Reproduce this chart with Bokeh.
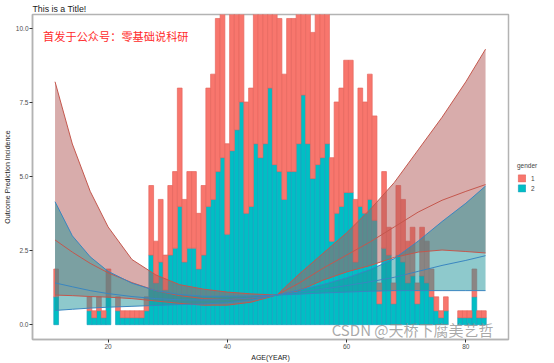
import numpy as np
from bokeh.plotting import figure
from bokeh.models import (Range1d, FixedTicker, PrintfTickFormatter, Legend,
                          LegendItem, Label)
from bokeh.embed import file_html
from bokeh.resources import INLINE

# ---------------- data ----------------
# histogram of AGE by gender (stacked), counts per bin
age_start = 10.89
bin_width = 0.797
count_unit = 0.2349   # y value of one count

gender2_counts = [4, 0, 0, 0, 0, 0, 0, 2, 1, 2,
                  1, 4, 0, 2, 1, 1, 1, 1, 1, 2,
                  10, 6, 9, 5, 10, 11, 17, 9, 11, 11,
                  8, 10, 17, 18, 22, 24, 13, 25, 28, 32,
                  16, 17, 26, 24, 26, 34, 23, 22, 18, 22,
                  22, 26, 33, 26, 21, 23, 24, 26, 12, 16,
                  17, 19, 19, 9, 17, 16, 18, 15, 3, 11,
                  10, 3, 10, 9, 6, 7, 3, 7, 6, 4,
                  2, 1, 2, 0, 0, 1, 1, 1, 4, 1, 1]
gender1_counts = [4, 0, 0, 0, 0, 0, 0, 2, 1, 2,
                  1, 4, 0, 2, 1, 1, 1, 1, 1, 2,
                  10, 6, 9, 5, 10, 11, 17, 9, 11, 11,
                  8, 10, 17, 18, 22, 24, 13, 25, 28, 32,
                  16, 17, 26, 24, 26, 34, 23, 22, 18, 22,
                  22, 26, 33, 26, 21, 23, 24, 26, 12, 16,
                  17, 19, 19, 9, 17, 16, 18, 15, 3, 11,
                  4, 3, 10, 9, 6, 7, 3, 7, 6, 4,
                  2, 1, 2, 0, 0, 1, 1, 1, 4, 1, 1]

# spline curves (prediction with confidence band) by gender
curve_age = [11.1, 14, 17, 20, 24, 28, 32, 36, 40, 44, 48.3,
             52, 56, 60, 64, 68, 72, 76, 80, 83.3]
g1_fit = [2.86, 2.45, 2.07, 1.75, 1.42, 1.15, 0.98, 0.88, 0.85, 0.89, 1.0,
          1.40, 1.90, 2.35, 2.80, 3.30, 3.80, 4.20, 4.50, 4.73]
g1_low = [1.00, 0.98, 0.95, 0.93, 0.88, 0.80, 0.72, 0.66, 0.66, 0.76, 1.0,
          1.15, 1.50, 1.78, 2.00, 2.27, 2.45, 2.52, 2.47, 2.42]
g1_high = [8.20, 6.10, 4.50, 3.30, 2.20, 1.68, 1.35, 1.20, 1.10, 1.04, 1.0,
           1.70, 2.40, 3.10, 3.90, 4.80, 5.90, 7.00, 8.20, 9.30]
g2_fit = [1.41, 1.28, 1.15, 1.05, 0.95, 0.88, 0.84, 0.83, 0.85, 0.90, 1.0,
          1.10, 1.20, 1.32, 1.45, 1.60, 1.80, 2.00, 2.17, 2.33]
g2_low = [0.48, 0.52, 0.56, 0.59, 0.62, 0.65, 0.68, 0.70, 0.74, 0.83, 1.0,
          1.03, 1.07, 1.10, 1.13, 1.15, 1.15, 1.15, 1.15, 1.15]
g2_high = [4.15, 3.00, 2.29, 1.80, 1.40, 1.15, 1.02, 0.96, 0.96, 0.97, 1.0,
           1.17, 1.35, 1.58, 1.86, 2.23, 2.82, 3.48, 4.10, 4.68]

x_ticks = [20, 40, 60, 80]
y_ticks = [0, 2.5, 5, 7.5, 10]

# ---------------- figure ----------------
FONT = "Liberation Sans"
CJK = "Noto Sans CJK SC"
FW, FH = 476, 325

p = figure(frame_width=FW, frame_height=FH, output_backend="svg",
           toolbar_location=None,
           x_range=Range1d(7.32, 87.15), y_range=Range1d(-0.5, 10.47),
           title="This is a Title!", min_border_left=0, min_border_right=0,
           min_border_top=0, min_border_bottom=0)
p.background_fill_color = "white"
p.border_fill_color = "white"
p.outline_line_color = "#b3b3b3"
p.outline_line_width = 1.5
p.xgrid.visible = False
p.ygrid.visible = False

p.title.text_font = FONT
p.title.text_font_size = "8.8px"
p.title.text_font_style = "normal"
p.title.text_color = "#1a1a1a"
p.title.standoff = 2

edges = age_start + bin_width * np.arange(len(gender2_counts) + 1)
left = edges[:-1]
right = edges[1:]
g2 = np.array(gender2_counts, dtype=float) * count_unit
g1 = np.array(gender1_counts, dtype=float) * count_unit
m2 = g2 > 0
m1 = g1 > 0

cyan = p.quad(left=left[m2], right=right[m2], bottom=0, top=g2[m2],
              fill_color="#00BFC4", line_color="#1a9fc0", line_width=0.7)
red = p.quad(left=left[m1], right=right[m1], bottom=g2[m1], top=(g2 + g1)[m1],
             fill_color="#F8766D", line_color="#e5665d", line_width=0.7)

# ribbons
p.varea(x=curve_age, y1=g1_low, y2=g1_high, fill_color="#b15957", fill_alpha=0.5)
p.varea(x=curve_age, y1=g2_low, y2=g2_high, fill_color="#1d9399", fill_alpha=0.5)
for ys in (g1_low, g1_high, g1_fit):
    p.line(curve_age, ys, line_color="#c4574d", line_width=1)
for ys in (g2_low, g2_high, g2_fit):
    p.line(curve_age, ys, line_color="#3a86c0", line_width=1)

# axes
for ax in (p.xaxis[0], p.yaxis[0]):
    ax.axis_line_color = "#b3b3b3"
    ax.axis_line_width = 1.5
    ax.major_tick_line_color = "#333333"
    ax.major_tick_out = 3
    ax.major_tick_in = 0
    ax.minor_tick_line_color = None
    ax.major_label_text_font = FONT
    ax.major_label_text_font_size = "6.5px"
    ax.major_label_text_color = "#4d4d4d"
    ax.major_label_standoff = 1
    ax.axis_label_text_font = FONT
    ax.axis_label_text_font_size = "7px"
    ax.axis_label_text_font_style = "normal"
    ax.axis_label_text_color = "#1a1a1a"
    ax.axis_label_standoff = 2

p.xaxis.ticker = FixedTicker(ticks=x_ticks)
p.yaxis.ticker = FixedTicker(ticks=y_ticks)
p.yaxis.formatter = PrintfTickFormatter(format="%.1f")
p.xaxis.axis_label = "AGE(YEAR)"
p.yaxis.axis_label = "Outcome Prediction Incidence"

# legend in the right-hand panel
legend = Legend(items=[LegendItem(label="1", renderers=[red]),
                       LegendItem(label="2", renderers=[cyan])],
                title="gender", location="center_left")
legend.title_text_font = FONT
legend.title_text_font_size = "6.5px"
legend.title_text_font_style = "normal"
legend.label_text_font = FONT
legend.label_text_font_size = "6.5px"
legend.glyph_width = 9
legend.glyph_height = 9
legend.label_height = 9
legend.spacing = 1
legend.padding = 0
legend.margin = 9
legend.label_standoff = 5
legend.border_line_color = None
legend.background_fill_alpha = 0
p.add_layout(legend, "right")

# annotation text
p.add_layout(Label(x=9.1, y=9.73, text="首发于公众号：零基础说科研",
                   text_font=CJK, text_font_size="11.2px", text_color="#ff2b2b",
                   text_baseline="middle"))
# watermark (kept inside the frame, bottom right)
p.add_layout(Label(x=57.5, y=-0.5, text="CSDN @天桥下腐美艺哲",
                   text_font=CJK, text_font_size="15px", text_color="#8c8c8c",
                   text_alpha=0.75, text_baseline="bottom"))

open("out.html", "w").write(file_html(p, INLINE))
